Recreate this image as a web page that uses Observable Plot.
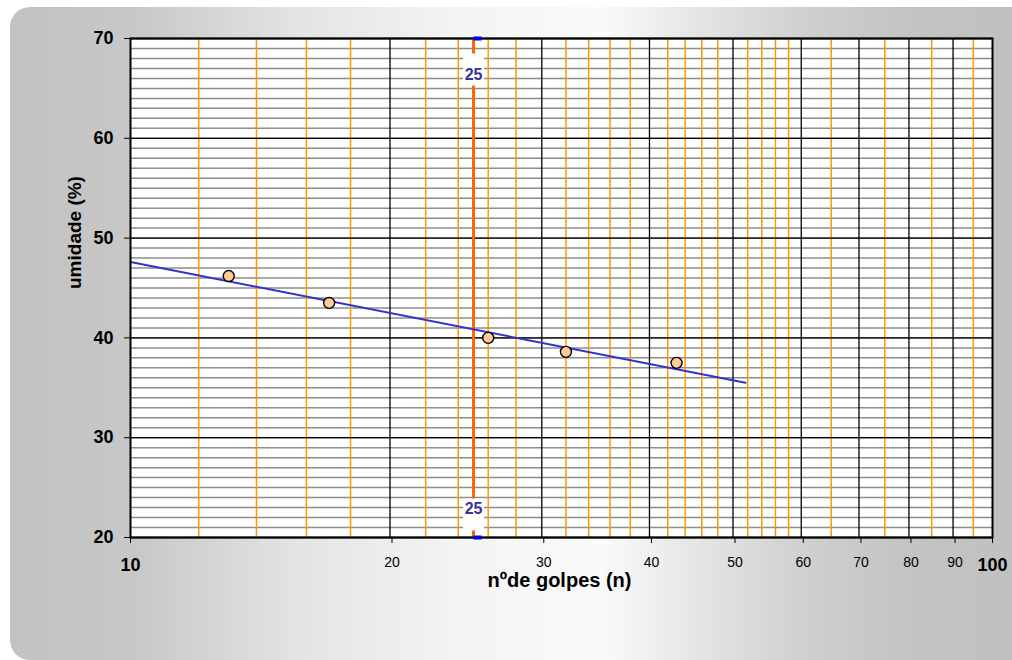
<!DOCTYPE html>
<html>
<head>
<meta charset="utf-8">
<script src="https://cdn.jsdelivr.net/npm/d3@7"></script>
<script src="https://cdn.jsdelivr.net/npm/@observablehq/plot@0.6"></script>
<style>
  html, body { margin: 0; padding: 0; background: white; }
  #wrap { position: relative; width: 1012px; height: 660px; overflow: hidden; background: white; }
  #bg {
    position: absolute; left: 10px; top: 7px; width: 1002px; height: 653px;
    border-radius: 20px 0 0 20px;
    background: linear-gradient(to right, #c2c2c2 0%, #c7c7c7 12%, #e4e4e4 29%, #f4f4f4 45%, #fafafa 59%, #e4e4e4 69%, #d0d0d0 79%, #c4c4c4 89%, #c0c0c0 100%);
  }
  #chart { position: absolute; left: 0; top: 0; }
</style>
</head>
<body>
<div id="wrap"><div id="bg"></div><div id="chart"></div></div>
<script>
// ---- data ----
const golpes = [13, 17, 26, 32, 43];
const umidade = [46.2, 43.5, 40.0, 38.6, 37.5];
const trendGolpes = [10, 51.7];
const trendUmidade = [47.6, 35.5];
const limite = [25];

// ---- tick / grid values ----
const yTicks = [20, 30, 40, 50, 60, 70];
const yMinor = d3.range(20, 71);
const xMajor = [20, 30, 40, 50, 60, 70, 80, 90];
const xEnds = [10, 100];
const xMinor = [12, 14, 16, 18, 22, 24, 26, 28, 32, 34, 36, 38, 42, 44, 46, 48, 52, 54, 56, 58, 65, 75, 85, 95];

const points = golpes.map((n, i) => ({n, w: umidade[i]}));
const trend = trendGolpes.map((n, i) => ({n, w: trendUmidade[i]}));

const boxSymbol = {draw(ctx) { ctx.rect(-10.5, -16, 21, 32); }};
const capSymbol = {draw(ctx) { ctx.rect(0, -2, 8, 4); }};

const font = "'Liberation Sans', Arial, sans-serif";

const chart = Plot.plot({
  width: 1012,
  height: 660,
  marginLeft: 130,
  marginRight: 20,
  marginTop: 38,
  marginBottom: 123,
  style: {background: "transparent", fontFamily: font, color: "black", overflow: "visible"},
  x: {type: "log", domain: [10, 100]},
  y: {domain: [20, 70]},
  marks: [
    Plot.frame({fill: "white"}),
    Plot.ruleY(yMinor, {stroke: "#8c8c8c", strokeWidth: 1.5}),
    Plot.ruleX(xMinor, {stroke: "#ff9900", strokeWidth: 1.5}),
    Plot.ruleY(yTicks, {stroke: "#000", strokeWidth: 1.3}),
    Plot.ruleX(xMajor, {stroke: "#000", strokeWidth: 1.3}),
    Plot.ruleX(limite, {stroke: "#ff6600", strokeWidth: 3}),
    Plot.dot(limite, {x: d => d, frameAnchor: "top", dy: 31, symbol: boxSymbol, fill: "white", stroke: "none"}),
    Plot.dot(limite, {x: d => d, frameAnchor: "bottom", dy: -23, symbol: boxSymbol, fill: "white", stroke: "none"}),
    Plot.text(limite, {x: d => d, text: d => String(d), frameAnchor: "top", dy: 30, fill: "#333399", fontSize: 16, fontWeight: "bold"}),
    Plot.text(limite, {x: d => d, text: d => String(d), frameAnchor: "bottom", dy: -24, fill: "#333399", fontSize: 16, fontWeight: "bold"}),
    Plot.line(trend, {x: "n", y: "w", stroke: "#3333cc", strokeWidth: 2}),
    Plot.dot(points, {x: "n", y: "w", r: 5.5, fill: "#ffcc99", stroke: "#000", strokeWidth: 1.4}),
    Plot.frame({stroke: "#000", strokeWidth: 2}),
    Plot.dot(limite, {x: d => d, frameAnchor: "top", symbol: capSymbol, fill: "#0000ff", stroke: "none"}),
    Plot.dot(limite, {x: d => d, frameAnchor: "bottom", symbol: capSymbol, fill: "#0000ff", stroke: "none"}),
    Plot.axisY(yTicks, {tickSize: 6, tickPadding: 11, fontSize: 18, fontWeight: "bold", label: null}),
    Plot.axisX(xMajor, {tickSize: 6, tickPadding: 14, fontSize: 14, label: null, dx: 2}),
    Plot.axisX(xEnds, {tickSize: 6, tickPadding: 15, fontSize: 18, fontWeight: "bold", label: null, tickFormat: d => String(d)}),
    Plot.text(["nºde golpes (n)"], {frameAnchor: "bottom", lineAnchor: "bottom", dy: 49, dx: -2, fontSize: 20, fontWeight: "bold", fill: "#000"}),
    Plot.text(["umidade (%)"], {frameAnchor: "left", rotate: -90, dx: -56, dy: 1, fontSize: 19, fontWeight: "bold", fill: "#000"})
  ]
});
document.getElementById("chart").appendChild(chart);
</script>
</body>
</html>
